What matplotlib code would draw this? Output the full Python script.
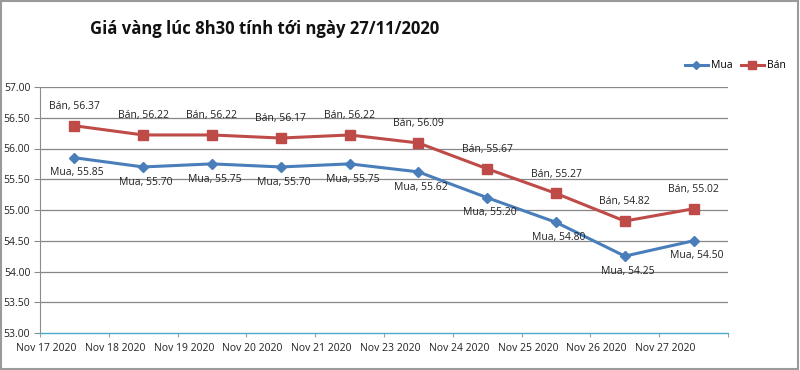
import matplotlib
matplotlib.use("Agg")
import matplotlib.pyplot as plt
from matplotlib.patches import Rectangle

plt.rcParams['font.family'] = ['Open Sans', 'DejaVu Sans']

dates = ["Nov 17 2020", "Nov 18 2020", "Nov 19 2020", "Nov 20 2020", "Nov 21 2020",
         "Nov 23 2020", "Nov 24 2020", "Nov 25 2020", "Nov 26 2020", "Nov 27 2020"]
mua = [55.85, 55.70, 55.75, 55.70, 55.75, 55.62, 55.20, 54.80, 54.25, 54.50]
ban = [56.37, 56.22, 56.22, 56.17, 56.22, 56.09, 55.67, 55.27, 54.82, 55.02]
yticks = [53.0, 53.5, 54.0, 54.5, 55.0, 55.5, 56.0, 56.5, 57.0]
title = "Giá vàng lúc 8h30 tính tới ngày 27/11/2020"

W, H = 800, 370
fig = plt.figure(figsize=(W / 100, H / 100), dpi=100)
ax = fig.add_axes([40 / W, 1 - 333 / H, (728 - 40) / W, (333 - 87) / H])

x = list(range(len(dates)))
blue = "#4A7EBB"
red = "#BE4B48"
ax.plot(x, mua, color=blue, lw=2.2, marker="D", ms=5, label="Mua", zorder=3)
ax.plot(x, ban, color=red, lw=2.2, marker="s", ms=7, label="Bán", zorder=3)

ax.set_xlim(-0.5, len(dates) - 0.5)
ax.set_ylim(53.0, 57.0)
ax.set_yticks(yticks)
ax.set_yticklabels([f"{v:.2f}" for v in yticks], fontsize=7.5, color="#222222")
for v in yticks[1:]:
    ax.axhline(v, color="#878787", lw=0.9, zorder=1)

# category boundary ticks
ax.set_xticks([i - 0.5 for i in range(len(dates) + 1)])
ax.set_xticklabels([])
ax.tick_params(axis="x", length=3, color="#a0a0a0", direction="out")
ax.tick_params(axis="y", length=4, color="#8c8c8c", pad=3)
for i, d in enumerate(dates):
    ax.text(i - 0.41, -0.04, d, transform=ax.get_xaxis_transform(), ha="center",
            va="top", fontsize=7.5, color="#222222")

for s in ["top", "right"]:
    ax.spines[s].set_visible(False)
ax.spines["left"].set_color("#8c8c8c")
ax.spines["bottom"].set_color("#4bacc6")
ax.spines["bottom"].set_linewidth(1.0)

for i in x:
    ax.annotate(f"Bán, {ban[i]:.2f}", (i, ban[i]), xytext=(0, 10), textcoords="offset points",
                ha="center", va="bottom", fontsize=7.5, color="#222222")
    ax.annotate(f"Mua, {mua[i]:.2f}", (i, mua[i]), xytext=(2, -7), textcoords="offset points",
                ha="center", va="top", fontsize=7.5, color="#222222")

fig.text(265 / W, 1 - 29 / H, title, ha="center", va="center", fontsize=12,
         fontweight="bold", color="#111111")

leg = fig.legend(loc="center right", bbox_to_anchor=(795 / W, 1 - 66 / H), ncol=2,
                 frameon=False, fontsize=7.5, handlelength=2.2, columnspacing=0.8,
                 handletextpad=0.3, markerscale=0.8)

fig.patches.append(Rectangle((0.001, 0.002), 0.997, 0.995, transform=fig.transFigure,
                             fill=False, edgecolor="#9a9a9a", lw=1.5))

fig.savefig("out.png", dpi=100)
